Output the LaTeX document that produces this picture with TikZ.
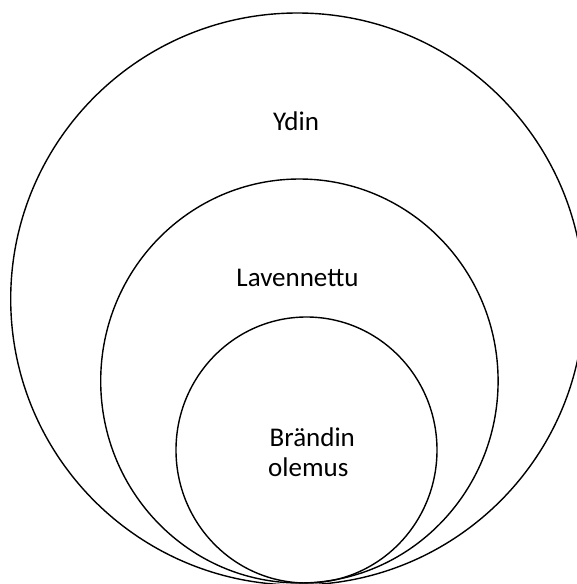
\documentclass[tikz,border=0pt]{standalone}
\usepackage{fontspec}
\setmainfont{Carlito}
\begin{document}
\begin{tikzpicture}[x=1pt,y=-1pt,
  ring/.style={draw=black,line width=1.4pt},
  lbl/.style={inner sep=0pt,font=\fontsize{27}{31}\selectfont}]
\useasboundingbox (0,0) rectangle (577,584);
\draw[ring] (297.4,299) ellipse [x radius=286.7, y radius=286];
\draw[ring] (299.4,381) ellipse [x radius=198.7, y radius=202];
\draw[ring] (306.5,450) ellipse [x radius=130.5, y radius=133];
\node[lbl,anchor=base] (ydin) at (296,130.7) {Ydin};
\node[lbl,anchor=base] (lav) at (297.5,286.7) {Lavennettu};
\node[lbl,anchor=base west] (br1) at (269.5,446.7) {Brändin};
\node[lbl,anchor=base west] (br2) at (268,476.7) {olemus};
\end{tikzpicture}
\end{document}
